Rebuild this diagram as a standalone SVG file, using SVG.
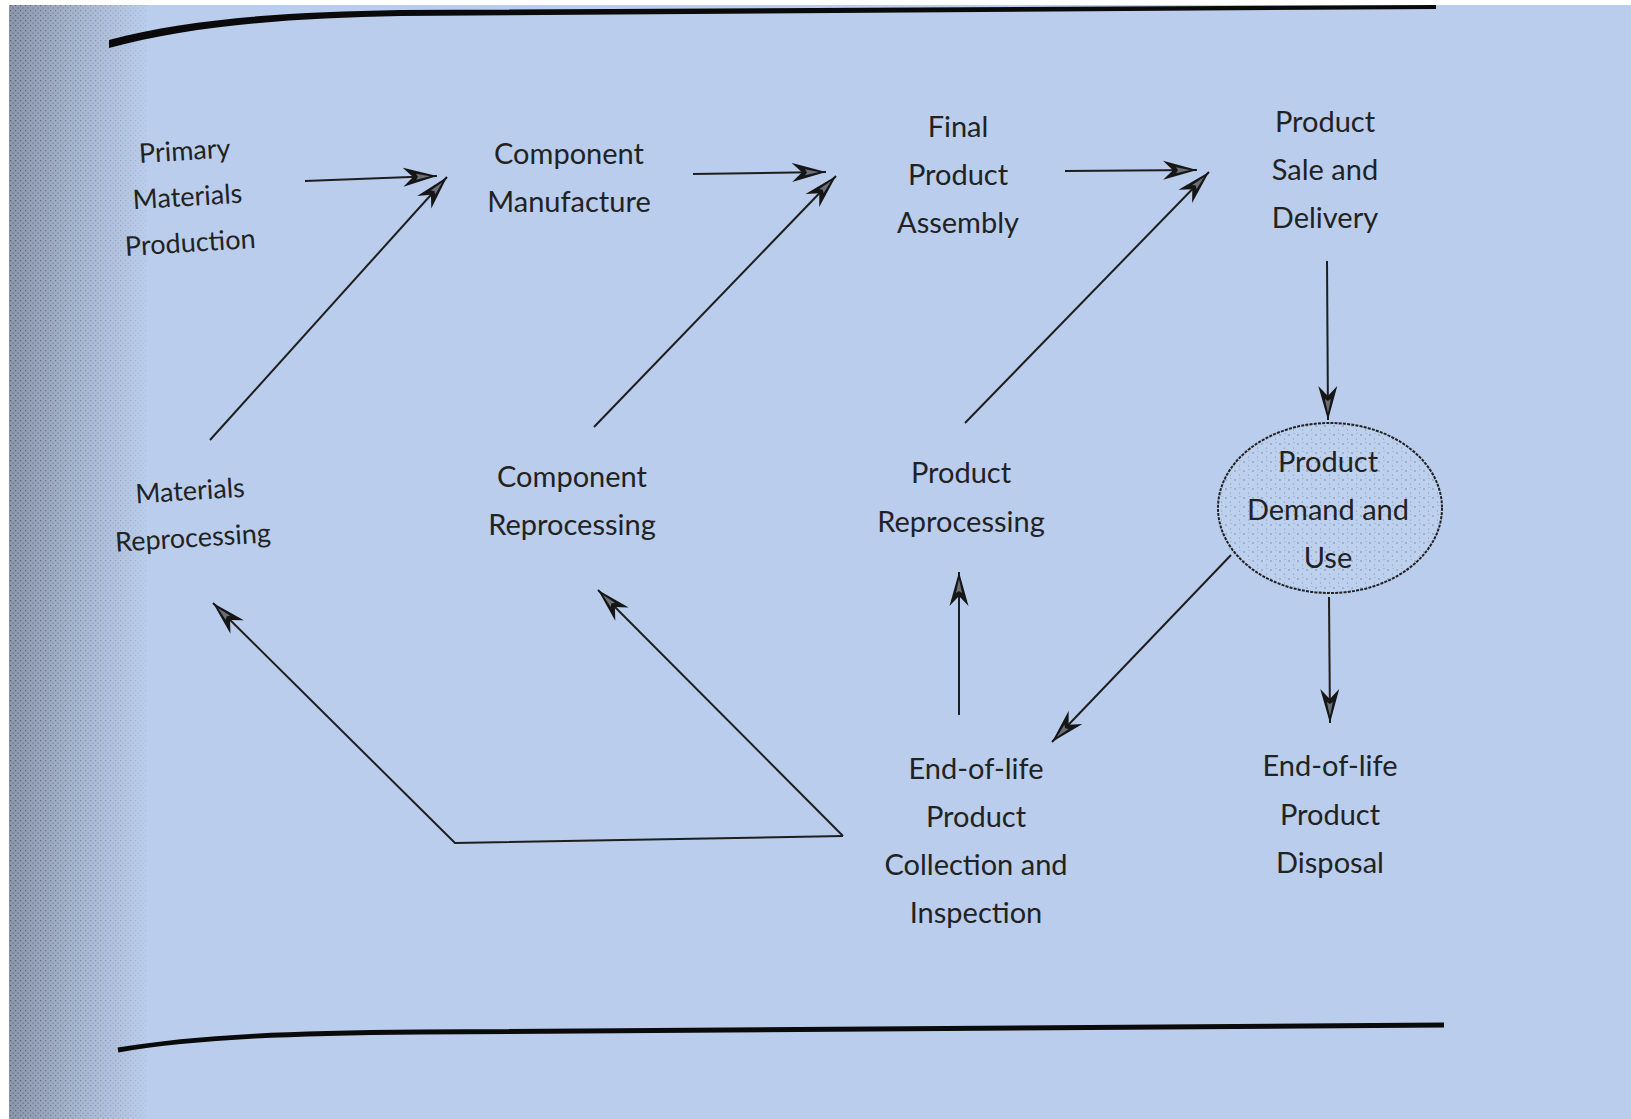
<svg xmlns="http://www.w3.org/2000/svg" width="1631" height="1119" viewBox="0 0 1631 1119">
  <style>
    .lbl { font-family: Lato, "Liberation Sans", sans-serif; font-size: 29px; fill: #222222; text-anchor: middle; }
    .lbl.sm { font-size: 27px; }
    .conn { fill: none; stroke: #1e1e1e; stroke-width: 2; marker-end: url(#arrow); }
    .rule { fill: none; stroke: #0a0a0a; stroke-linecap: butt; }
  </style>
  <defs>
    <marker id="arrow" viewBox="0 0 34 20" refX="34" refY="10" markerWidth="34" markerHeight="20" markerUnits="userSpaceOnUse" orient="auto">
      <path d="M34,10 L0,0.5 L10,10 L0,19.5 Z" fill="#161616"/>
      <path d="M27,10 L13,7 L15,10 L13,13 Z" fill="#6b6f78"/>
    </marker>
    <linearGradient id="edgeGrad" x1="0" y1="0" x2="1" y2="0">
      <stop offset="0" stop-color="#8a96ab"/>
      <stop offset="0.5" stop-color="#a7b6cf"/>
      <stop offset="1" stop-color="#bacdec"/>
    </linearGradient>
    <linearGradient id="maskGrad" x1="0" y1="0" x2="1" y2="0">
      <stop offset="0" stop-color="#fff" stop-opacity="1"/>
      <stop offset="1" stop-color="#fff" stop-opacity="0.2"/>
    </linearGradient>
    <mask id="edgeMask">
      <rect x="9" y="0" width="138" height="1119" fill="url(#maskGrad)"/>
    </mask>
    <pattern id="stipple" width="5" height="5" patternUnits="userSpaceOnUse">
      <rect x="0" y="0" width="1.2" height="1.2" fill="#2a2f3a" opacity="0.55"/>
      <rect x="2.5" y="2.5" width="1.2" height="1.2" fill="#2a2f3a" opacity="0.45"/>
    </pattern>
    <pattern id="ellDots" width="9" height="9" patternUnits="userSpaceOnUse">
      <rect width="9" height="9" fill="#bdd0ee"/>
      <circle cx="2" cy="3" r="0.7" fill="#3a3f4a" opacity="0.6"/>
      <circle cx="6.5" cy="7" r="0.6" fill="#3a3f4a" opacity="0.5"/>
      <circle cx="7" cy="1.5" r="0.5" fill="#3a3f4a" opacity="0.4"/>
    </pattern>
  </defs>

  <!-- page -->
  <rect x="0" y="0" width="1631" height="1119" fill="#bacdec"/>
  <rect x="0" y="0" width="1631" height="5" fill="#ffffff"/>
  <rect x="0" y="0" width="9" height="1119" fill="#ffffff"/>
  <rect x="9" y="5" width="138" height="1114" fill="url(#edgeGrad)"/>
  <rect x="9" y="5" width="138" height="1114" fill="url(#stipple)" mask="url(#edgeMask)"/>

  <!-- rules -->
  <path d="M109,40 C190,18 290,12 400,10 L1436,5 L1436,9 L400,16 C290,18 190,26 109,48 Z" fill="#0a0a0a"/>
  <path class="rule" d="M118,1050 C200,1036 300,1033 420,1032 L1444,1025" stroke-width="5"/>

  <!-- connectors -->
  <g id="connectors">
    <path class="conn" d="M305,181 L437,176"/>
    <path class="conn" d="M210,440 L447,177"/>
    <path class="conn" d="M693,174 L826,172"/>
    <path class="conn" d="M594,427 L836,176"/>
    <path class="conn" d="M1065,171 L1197,170"/>
    <path class="conn" d="M965,423 L1209,172"/>
    <path class="conn" d="M1327,261 L1328,420"/>
    <path class="conn" d="M1329,597 L1330,723"/>
    <path class="conn" d="M1231,555 L1052,742"/>
    <path class="conn" d="M959,715 L959,572"/>
    <path class="conn" d="M843,836 L455,843 L213,603"/>
    <path class="conn" d="M843,836 L598,590"/>
  </g>

  <!-- nodes -->
  <g id="primary-materials-production">
    <text class="lbl sm" transform="rotate(-3.5 188 206)"><tspan x="188" y="160">Primary</tspan><tspan x="188" y="206">Materials</tspan><tspan x="188" y="252">Production</tspan></text>
  </g>
  <g id="component-manufacture">
    <text class="lbl"><tspan x="569" y="164">Component</tspan><tspan x="569" y="212">Manufacture</tspan></text>
  </g>
  <g id="final-product-assembly">
    <text class="lbl"><tspan x="958" y="137">Final</tspan><tspan x="958" y="185">Product</tspan><tspan x="958" y="233">Assembly</tspan></text>
  </g>
  <g id="product-sale-delivery">
    <text class="lbl"><tspan x="1325" y="132">Product</tspan><tspan x="1325" y="180">Sale and</tspan><tspan x="1325" y="228">Delivery</tspan></text>
  </g>
  <g id="materials-reprocessing">
    <text class="lbl sm" transform="rotate(-3.5 192 523)"><tspan x="192" y="500">Materials</tspan><tspan x="192" y="547">Reprocessing</tspan></text>
  </g>
  <g id="component-reprocessing">
    <text class="lbl"><tspan x="572" y="487">Component</tspan><tspan x="572" y="535">Reprocessing</tspan></text>
  </g>
  <g id="product-reprocessing">
    <text class="lbl"><tspan x="961" y="483">Product</tspan><tspan x="961" y="532">Reprocessing</tspan></text>
  </g>
  <g id="product-demand-use">
    <ellipse cx="1330" cy="508" rx="112" ry="85" fill="url(#ellDots)" stroke="#222222" stroke-width="2" stroke-dasharray="3 1.2"/>
    <text class="lbl"><tspan x="1328" y="472">Product</tspan><tspan x="1328" y="520">Demand and</tspan><tspan x="1328" y="568">Use</tspan></text>
  </g>
  <g id="eol-collection-inspection">
    <text class="lbl"><tspan x="976" y="779">End-of-life</tspan><tspan x="976" y="827">Product</tspan><tspan x="976" y="875">Collection and</tspan><tspan x="976" y="923">Inspection</tspan></text>
  </g>
  <g id="eol-disposal">
    <text class="lbl"><tspan x="1330" y="776">End-of-life</tspan><tspan x="1330" y="825">Product</tspan><tspan x="1330" y="873">Disposal</tspan></text>
  </g>
</svg>
